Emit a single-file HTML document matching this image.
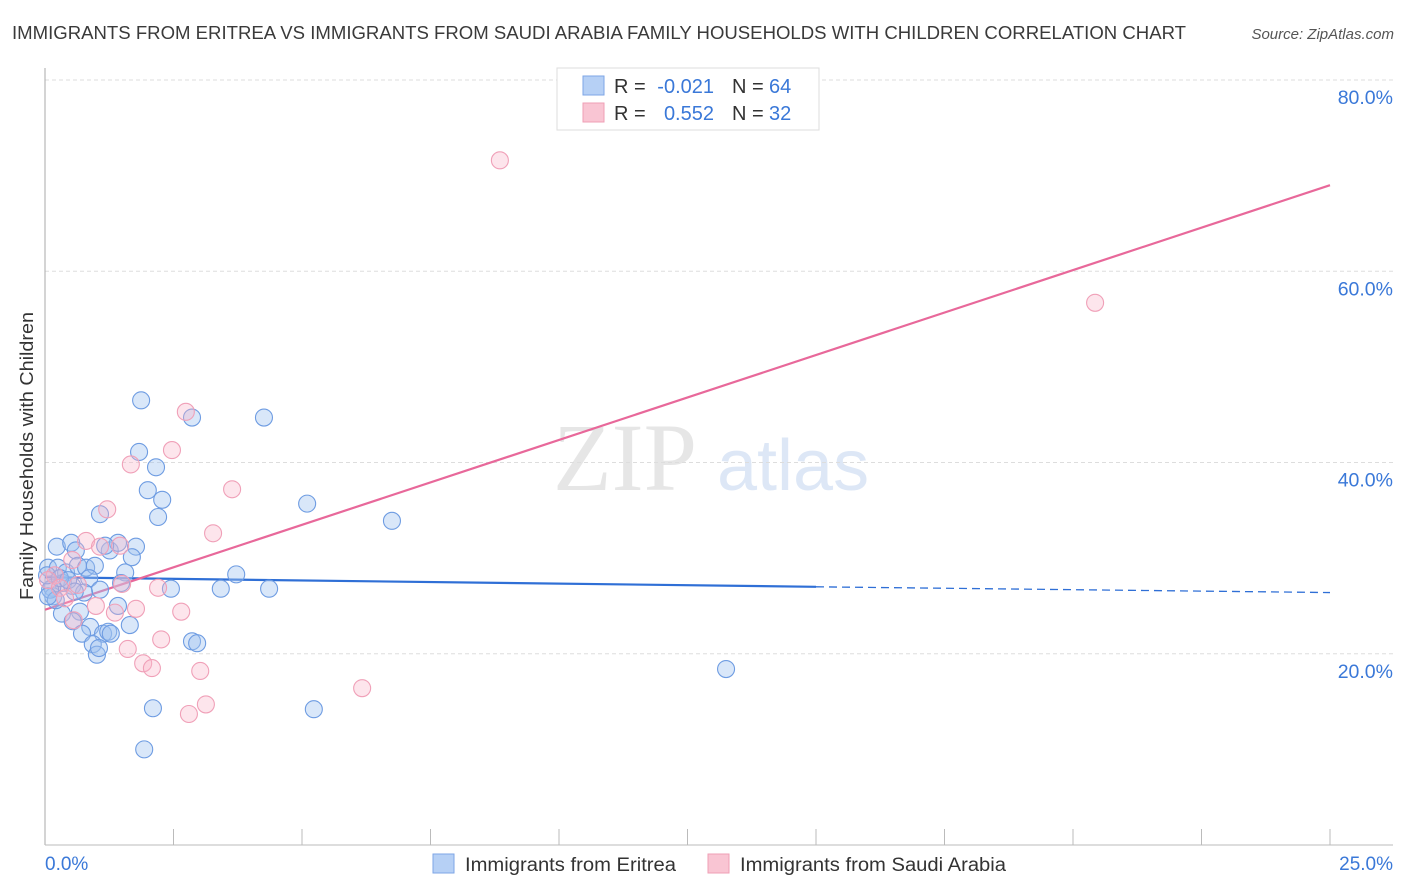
<!DOCTYPE html>
<html><head><meta charset="utf-8"><style>
body{margin:0;background:#fff;font-family:"Liberation Sans",sans-serif}
svg{display:block}
</style></head><body>
<svg id="chart" width="1406" height="892">
<text x="12" y="39" font-size="18" fill="#3a3a3a" textLength="1174" lengthAdjust="spacingAndGlyphs">IMMIGRANTS FROM ERITREA VS IMMIGRANTS FROM SAUDI ARABIA FAMILY HOUSEHOLDS WITH CHILDREN CORRELATION CHART</text>
<text x="1394" y="39" font-size="15" fill="#555" font-style="italic" text-anchor="end">Source: ZipAtlas.com</text>
<g opacity="0.18">
<text x="553" y="490" font-size="96" font-family="Liberation Serif,serif" fill="#777">ZIP</text>
<text x="717" y="490" font-size="72" fill="#4a7fd0">atlas</text>
</g>
<g id="grid"></g>
<line x1="45" y1="68" x2="45" y2="845" stroke="#aaa"/>
<line x1="45" y1="845" x2="1393" y2="845" stroke="#bbb"/>
<text x="33" y="456" font-size="18" fill="#333" transform="rotate(-90 33 456)" text-anchor="middle" textLength="288" lengthAdjust="spacingAndGlyphs">Family Households with Children</text>
<text x="45" y="870" font-size="19" fill="#3a78d8">0.0%</text>
<text x="1393" y="870" font-size="19" fill="#3a78d8" text-anchor="end">25.0%</text>
<g id="lines"></g>
<g id="pts"></g>
<g font-size="20">
<rect x="557" y="68" width="262" height="62" fill="#fff" stroke="#ddd"/>
<rect x="583" y="76" width="21" height="19" fill="#b6d0f5" stroke="#7ea6e6"/>
<rect x="583" y="103" width="21" height="19" fill="#f9c5d3" stroke="#ef9fb6"/>
<text x="614" y="93" fill="#333">R =</text>
<text x="714" y="93" fill="#3a78d8" text-anchor="end">-0.021</text>
<text x="732" y="93" fill="#333">N =</text>
<text x="769" y="93" fill="#3a78d8">64</text>
<text x="614" y="120" fill="#333">R =</text>
<text x="714" y="120" fill="#3a78d8" text-anchor="end">0.552</text>
<text x="732" y="120" fill="#333">N =</text>
<text x="769" y="120" fill="#3a78d8">32</text>
</g>
<g>
<rect x="433" y="854" width="21" height="19" fill="#b6d0f5" stroke="#7ea6e6"/>
<text x="465" y="871" font-size="19" fill="#333" textLength="211" lengthAdjust="spacingAndGlyphs">Immigrants from Eritrea</text>
<rect x="708" y="854" width="21" height="19" fill="#f9c5d3" stroke="#ef9fb6"/>
<text x="740" y="871" font-size="19" fill="#333" textLength="266" lengthAdjust="spacingAndGlyphs">Immigrants from Saudi Arabia</text>
</g>
</svg>
<script>
const yTicks=[20,40,60,80];
const yTickLabels=["20.0%","40.0%","60.0%","80.0%"];
const xTicks=[0,2.5,5,7.5,10,12.5,15,17.5,20,22.5,25];
const eritreaX=[1.87,2.86,4.26,1.83,2.16,2.00,2.28,2.20,5.10,6.75,1.07,0.23,0.51,0.60,1.26,1.42,1.77,1.69,1.17,0.06,0.25,0.41,0.64,0.80,0.97,0.86,0.35,0.53,0.14,1.07,1.56,3.72,2.45,3.42,4.36,1.48,0.16,0.68,1.42,0.33,0.54,0.88,0.72,1.13,1.23,0.93,1.01,1.05,2.86,2.96,13.25,2.10,5.23,1.93,0.10,0.04,0.29,0.45,1.28,1.65,0.76,0.21,0.06,0.58];
const eritreaY=[46.5,44.7,44.7,41.1,39.5,37.1,36.1,34.3,35.7,33.9,34.6,31.2,31.6,30.8,30.8,31.6,31.2,30.1,31.3,29.0,29.0,28.5,29.2,29.0,29.2,27.9,27.4,27.1,26.9,26.7,28.5,28.3,26.8,26.8,26.8,27.4,26.0,24.4,25.0,24.2,23.4,22.8,22.1,22.1,22.3,21.0,19.9,20.6,21.3,21.1,18.4,14.3,14.2,10.0,26.7,28.2,27.9,27.7,22.1,23.0,26.4,25.6,26.0,26.5];
const saudiX=[8.85,20.43,2.74,2.47,1.67,3.64,1.21,3.27,0.80,1.07,1.46,0.53,0.19,0.06,0.29,0.64,0.39,1.50,2.20,0.99,1.77,1.36,2.65,0.56,2.26,1.61,1.91,2.08,3.02,6.17,3.13,2.80];
const saudiY=[71.6,56.7,45.3,41.3,39.8,37.2,35.1,32.6,31.8,31.2,31.3,29.8,28.2,27.7,26.9,27.2,25.8,27.3,26.9,25.0,24.7,24.3,24.4,23.5,21.5,20.5,19.0,18.5,18.2,16.4,14.7,13.7];
const eritreaTrend=[28.0,27.0,26.4]; // at x=0, 15, 25
const saudiTrend=[24.6,69.0]; // at x=0, 25
const NS="http://www.w3.org/2000/svg";
function sx(v){return 45+v*(1330-45)/25;}
function sy(v){return 845-v*(845-80)/80;}
function mk(t,a,p){const e=document.createElementNS(NS,t);for(const k in a)e.setAttribute(k,a[k]);p.appendChild(e);return e;}
const grid=document.getElementById('grid');
yTicks.forEach((t,i)=>{
 const l=mk('line',{x1:45,x2:1393,y1:sy(t),y2:sy(t),stroke:'#ddd','stroke-dasharray':'4,3'},grid);
 
 
 const tx=mk('text',{x:1393,y:sy(t)+24,'font-size':19.5,fill:'#3a78d8','text-anchor':'end'},grid);
 tx.textContent=yTickLabels[i];
 
 
});
xTicks.forEach(t=>{
 const l=mk('line',{x1:sx(t),x2:sx(t),y1:829,y2:845,stroke:'#bbb'},grid);
 
 
});
const pts=document.getElementById('pts');
eritreaX.forEach((x,i)=>{
 const c=mk('circle',{cx:sx(x),cy:sy(eritreaY[i]),r:8.5,fill:'rgba(160,194,240,0.4)',stroke:'#6e9ce2','stroke-width':1.1},pts);
 
 
});
saudiX.forEach((x,i)=>{
 const c=mk('circle',{cx:sx(x),cy:sy(saudiY[i]),r:8.5,fill:'rgba(248,180,200,0.35)',stroke:'#f0a0b8','stroke-width':1.1},pts);
 
 
});
const lines=document.getElementById('lines');
const l1=mk('line',{x1:sx(0),y1:sy(eritreaTrend[0]),x2:sx(15),y2:sy(eritreaTrend[1]),stroke:'#2f6fd6','stroke-width':2.2},lines);


const l2=mk('line',{x1:sx(15),y1:sy(eritreaTrend[1]),x2:sx(25),y2:sy(eritreaTrend[2]),stroke:'#2f6fd6','stroke-width':1.3,'stroke-dasharray':'8,5'},lines);


const l3=mk('line',{x1:sx(0),y1:sy(saudiTrend[0]),x2:sx(25),y2:sy(saudiTrend[1]),stroke:'#e8689a','stroke-width':2.2},lines);


</script>
</body></html>
